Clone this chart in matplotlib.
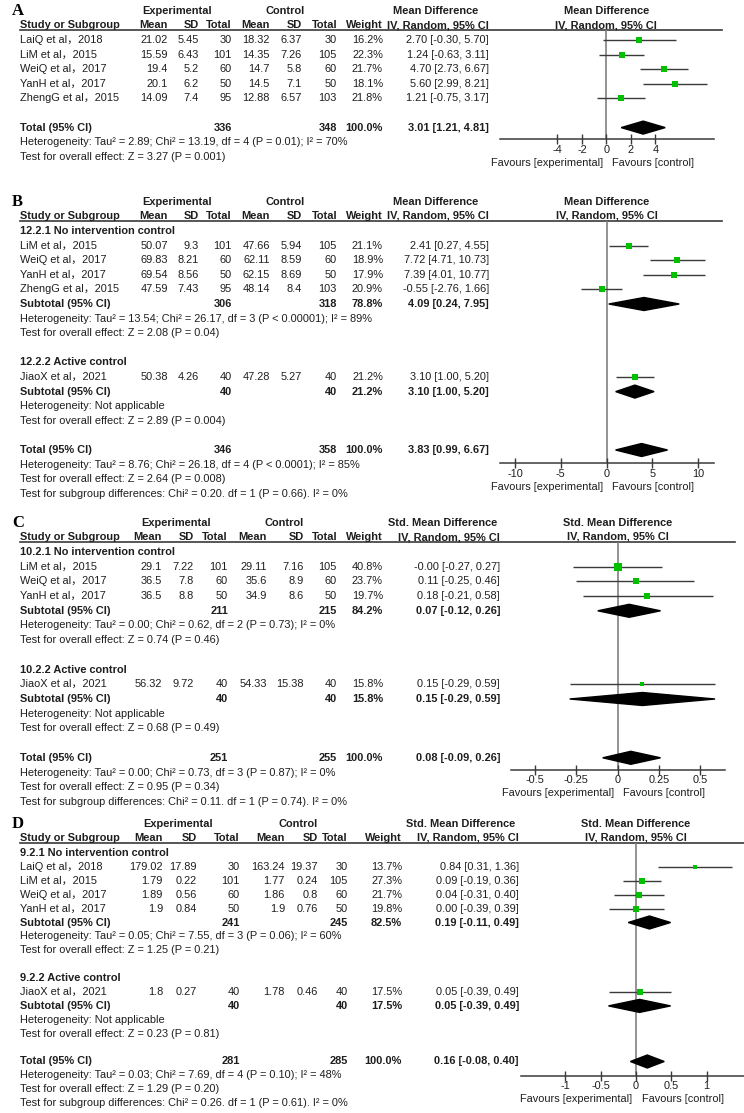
import matplotlib
matplotlib.use('Agg')
import matplotlib.pyplot as plt
from matplotlib.patches import Polygon

plt.rcParams['font.family'] = ['Liberation Sans', 'Noto Sans CJK SC']
plt.rcParams['font.size'] = 7.9

W, H = 744, 1113
TEXT = '#1e1e1e'
GREEN = '#00c000'
LINE = '#3a3a3a'

# ---------------- Panel A (Mean Difference) ----------------
a_studies = ['LaiQ et al，2018', 'LiM et al，2015', 'WeiQ et al，2017', 'YanH et al，2017', 'ZhengG et al，2015']
a_exp_mean = [21.02, 15.59, 19.4, 20.1, 14.09]
a_exp_sd = [5.45, 6.43, 5.2, 6.2, 7.4]
a_exp_n = [30, 101, 60, 50, 95]
a_ctl_mean = [18.32, 14.35, 14.7, 14.5, 12.88]
a_ctl_sd = [6.37, 7.26, 5.8, 7.1, 6.57]
a_ctl_n = [30, 105, 60, 50, 103]
a_weight = [16.2, 22.3, 21.7, 18.1, 21.8]
a_est = [2.70, 1.24, 4.70, 5.60, 1.21]
a_lo = [-0.30, -0.63, 2.73, 2.99, -0.75]
a_hi = [5.70, 3.11, 6.67, 8.21, 3.17]
a_total = [336, 348, 3.01, 1.21, 4.81]
a_total_text = ['Heterogeneity: Tau² = 2.89; Chi² = 13.19, df = 4 (P = 0.01); I² = 70%',
                'Test for overall effect: Z = 3.27 (P = 0.001)']
a_ticks = [-4, -2, 0, 2, 4]

# ---------------- Panel B (Mean Difference, subgroups) ----------------
b_groups = ['12.2.1 No intervention control', '12.2.2 Active control']
b_group_of = [0, 0, 0, 0, 1]
b_studies = ['LiM et al，2015', 'WeiQ et al，2017', 'YanH et al，2017', 'ZhengG et al，2015', 'JiaoX et al，2021']
b_exp_mean = [50.07, 69.83, 69.54, 47.59, 50.38]
b_exp_sd = [9.3, 8.21, 8.56, 7.43, 4.26]
b_exp_n = [101, 60, 50, 95, 40]
b_ctl_mean = [47.66, 62.11, 62.15, 48.14, 47.28]
b_ctl_sd = [5.94, 8.59, 8.69, 8.4, 5.27]
b_ctl_n = [105, 60, 50, 103, 40]
b_weight = [21.1, 18.9, 17.9, 20.9, 21.2]
b_est = [2.41, 7.72, 7.39, -0.55, 3.10]
b_lo = [0.27, 4.71, 4.01, -2.76, 1.00]
b_hi = [4.55, 10.73, 10.77, 1.66, 5.20]
b_sub_n = [(306, 318), (40, 40)]
b_sub_weight = [78.8, 21.2]
b_sub_est = [4.09, 3.10]
b_sub_lo = [0.24, 1.00]
b_sub_hi = [7.95, 5.20]
b_sub_text = [['Heterogeneity: Tau² = 13.54; Chi² = 26.17, df = 3 (P < 0.00001); I² = 89%',
               'Test for overall effect: Z = 2.08 (P = 0.04)'],
              ['Heterogeneity: Not applicable',
               'Test for overall effect: Z = 2.89 (P = 0.004)']]
b_total = [346, 358, 3.83, 0.99, 6.67]
b_total_text = ['Heterogeneity: Tau² = 8.76; Chi² = 26.18, df = 4 (P < 0.0001); I² = 85%',
                'Test for overall effect: Z = 2.64 (P = 0.008)',
                'Test for subgroup differences: Chi² = 0.20. df = 1 (P = 0.66). I² = 0%']
b_ticks = [-10, -5, 0, 5, 10]

# ---------------- Panel C (Std. Mean Difference) ----------------
c_groups = ['10.2.1 No intervention control', '10.2.2 Active control']
c_group_of = [0, 0, 0, 1]
c_studies = ['LiM et al，2015', 'WeiQ et al，2017', 'YanH et al，2017', 'JiaoX et al，2021']
c_exp_mean = [29.1, 36.5, 36.5, 56.32]
c_exp_sd = [7.22, 7.8, 8.8, 9.72]
c_exp_n = [101, 60, 50, 40]
c_ctl_mean = [29.11, 35.6, 34.9, 54.33]
c_ctl_sd = [7.16, 8.9, 8.6, 15.38]
c_ctl_n = [105, 60, 50, 40]
c_weight = [40.8, 23.7, 19.7, 15.8]
c_est = [-0.0, 0.11, 0.18, 0.15]
c_lo = [-0.27, -0.25, -0.21, -0.29]
c_hi = [0.27, 0.46, 0.58, 0.59]
c_sub_n = [(211, 215), (40, 40)]
c_sub_weight = [84.2, 15.8]
c_sub_est = [0.07, 0.15]
c_sub_lo = [-0.12, -0.29]
c_sub_hi = [0.26, 0.59]
c_sub_text = [['Heterogeneity: Tau² = 0.00; Chi² = 0.62, df = 2 (P = 0.73); I² = 0%',
               'Test for overall effect: Z = 0.74 (P = 0.46)'],
              ['Heterogeneity: Not applicable',
               'Test for overall effect: Z = 0.68 (P = 0.49)']]
c_total = [251, 255, 0.08, -0.09, 0.26]
c_total_text = ['Heterogeneity: Tau² = 0.00; Chi² = 0.73, df = 3 (P = 0.87); I² = 0%',
                'Test for overall effect: Z = 0.95 (P = 0.34)',
                'Test for subgroup differences: Chi² = 0.11. df = 1 (P = 0.74). I² = 0%']
c_ticks = [-0.5, -0.25, 0, 0.25, 0.5]

# ---------------- Panel D (Std. Mean Difference) ----------------
d_groups = ['9.2.1 No intervention control', '9.2.2 Active control']
d_group_of = [0, 0, 0, 0, 1]
d_studies = ['LaiQ et al，2018', 'LiM et al，2015', 'WeiQ et al，2017', 'YanH et al，2017', 'JiaoX et al，2021']
d_exp_mean = [179.02, 1.79, 1.89, 1.9, 1.8]
d_exp_sd = [17.89, 0.22, 0.56, 0.84, 0.27]
d_exp_n = [30, 101, 60, 50, 40]
d_ctl_mean = [163.24, 1.77, 1.86, 1.9, 1.78]
d_ctl_sd = [19.37, 0.24, 0.8, 0.76, 0.46]
d_ctl_n = [30, 105, 60, 50, 40]
d_weight = [13.7, 27.3, 21.7, 19.8, 17.5]
d_est = [0.84, 0.09, 0.04, 0.00, 0.05]
d_lo = [0.31, -0.19, -0.31, -0.39, -0.39]
d_hi = [1.36, 0.36, 0.40, 0.39, 0.49]
d_sub_n = [(241, 245), (40, 40)]
d_sub_weight = [82.5, 17.5]
d_sub_est = [0.19, 0.05]
d_sub_lo = [-0.11, -0.39]
d_sub_hi = [0.49, 0.49]
d_sub_text = [['Heterogeneity: Tau² = 0.05; Chi² = 7.55, df = 3 (P = 0.06); I² = 60%',
               'Test for overall effect: Z = 1.25 (P = 0.21)'],
              ['Heterogeneity: Not applicable',
               'Test for overall effect: Z = 0.23 (P = 0.81)']]
d_total = [281, 285, 0.16, -0.08, 0.40]
d_total_text = ['Heterogeneity: Tau² = 0.03; Chi² = 7.69, df = 4 (P = 0.10); I² = 48%',
                'Test for overall effect: Z = 1.29 (P = 0.20)',
                'Test for subgroup differences: Chi² = 0.26. df = 1 (P = 0.61). I² = 0%']
d_ticks = [-1, -0.5, 0, 0.5, 1]


def fmt_tick(v):
    return ('%g' % v)


def txt(cv, x, y, s, ha='left', bold=False):
    cv.text(x, y, s, ha=ha, va='center', color=TEXT,
            fontweight='bold' if bold else 'normal')


def draw_panel(fig, cv, p):
    col = p['cols']
    y0, step = p['y0'], p['step']
    y_line = y0 - 10
    y_hdr = y0 - 15
    y_grp = y0 - 29

    # header block
    cv.text(12, y_grp, p['letter'], ha='left', va='center', color='black',
            fontweight='bold', fontsize=12, family='Liberation Serif')
    txt(cv, col['exp'], y_grp, 'Experimental', ha='center', bold=True)
    txt(cv, col['ctl'], y_grp, 'Control', ha='center', bold=True)
    txt(cv, col['eff'], y_grp, p['measure'], ha='center', bold=True)
    txt(cv, 20, y_hdr, 'Study or Subgroup', bold=True)
    for key, lab in [('me', 'Mean'), ('se', 'SD'), ('ne', 'Total'),
                     ('mc', 'Mean'), ('sc', 'SD'), ('nc', 'Total'), ('w', 'Weight')]:
        txt(cv, col[key], y_hdr, lab, ha='right', bold=True)
    txt(cv, col['ci'], y_hdr, 'IV, Random, 95% CI', ha='right', bold=True)
    cv.plot([20, p['rule_end']], [y_line, y_line], color=LINE, lw=1.2)

    # build row list
    rows = []
    n_groups = len(p['groups']) if p['groups'] else 1
    for g in range(n_groups):
        if p['groups']:
            rows.append(('head', g))
        for i, gi in enumerate(p['group_of']):
            if gi == g:
                rows.append(('study', i))
        if p['groups']:
            rows.append(('sub', g))
            rows.append(('note', p['sub_text'][g][0]))
            rows.append(('note', p['sub_text'][g][1]))
        rows.append(('blank', None))
    rows.append(('total', None))
    for s in p['total_text']:
        rows.append(('note', s))

    ys = [y0 + k * step for k in range(len(rows))]
    y_total = ys[[r[0] for r in rows].index('total')]
    y_axis = y_total + p['axis_gap']

    x0, x1 = p['ax_px']
    ax = fig.add_axes([x0 / W, 1 - y_axis / H, (x1 - x0) / W, (y_axis - y_line) / H])
    ax.set_xlim(p['xlim'])
    ax.set_ylim(y_axis, y_line)
    ax.patch.set_alpha(0)
    for sp in ['left', 'right', 'top']:
        ax.spines[sp].set_visible(False)
    ax.spines['bottom'].set_color(LINE)
    ax.spines['bottom'].set_linewidth(1.1)
    ax.set_yticks([])
    ax.set_xticks(p['ticks'])
    ax.set_xticklabels([fmt_tick(t) for t in p['ticks']])
    ax.tick_params(axis='x', direction='inout', length=7, width=1, color=LINE,
                   pad=0.5, labelcolor=TEXT, labelsize=7.9)
    ax.axvline(0, color='#808080', lw=1.2, zorder=1)
    ax.annotate('Favours [experimental]', xy=(0, 0), xycoords=('data', 'axes fraction'),
                xytext=(-2.5, -17), textcoords='offset points', ha='right', va='center',
                color=TEXT, annotation_clip=False)
    ax.annotate('Favours [control]', xy=(0, 0), xycoords=('data', 'axes fraction'),
                xytext=(4, -17), textcoords='offset points', ha='left', va='center',
                color=TEXT, annotation_clip=False)
    ax.annotate(p['measure'], xy=(0, 1), xycoords=('data', 'axes fraction'),
                xytext=(0, 14), textcoords='offset points', ha='center', va='center',
                color=TEXT, fontweight='bold', annotation_clip=False)
    ax.annotate('IV, Random, 95% CI', xy=(0, 1), xycoords=('data', 'axes fraction'),
                xytext=(0, 3.6), textcoords='offset points', ha='center', va='center',
                color=TEXT, fontweight='bold', annotation_clip=False)

    def diamond(y, est, lo, hi):
        ax.add_patch(Polygon([(lo, y), (est, y - 6.5), (hi, y), (est, y + 6.5)],
                             closed=True, color='black', zorder=3))

    for (kind, val), y in zip(rows, ys):
        if kind == 'head':
            txt(cv, 20, y, p['groups'][val], bold=True)
        elif kind == 'study':
            i = val
            txt(cv, 20, y, p['studies'][i])
            txt(cv, col['me'], y, str(p['exp_mean'][i]), ha='right')
            txt(cv, col['se'], y, str(p['exp_sd'][i]), ha='right')
            txt(cv, col['ne'], y, str(p['exp_n'][i]), ha='right')
            txt(cv, col['mc'], y, str(p['ctl_mean'][i]), ha='right')
            txt(cv, col['sc'], y, str(p['ctl_sd'][i]), ha='right')
            txt(cv, col['nc'], y, str(p['ctl_n'][i]), ha='right')
            txt(cv, col['w'], y, '%.1f%%' % p['weight'][i], ha='right')
            txt(cv, col['ci'], y, '%.2f [%.2f, %.2f]' % (p['est'][i], p['lo'][i], p['hi'][i]),
                ha='right')
            ax.hlines(y, p['lo'][i], p['hi'][i], color=LINE, lw=1.0, zorder=2)
            # square side grows with the study weight
            side_px = 0.15 * p['weight'][i] + 2.6
            ax.plot([p['est'][i]], [y], marker='s', ms=side_px / 1.389, color=GREEN,
                    mew=0, ls='none', zorder=4, snap=False)
        elif kind == 'sub':
            g = val
            txt(cv, 20, y, 'Subtotal (95% CI)', bold=True)
            txt(cv, col['ne'], y, str(p['sub_n'][g][0]), ha='right', bold=True)
            txt(cv, col['nc'], y, str(p['sub_n'][g][1]), ha='right', bold=True)
            txt(cv, col['w'], y, '%.1f%%' % p['sub_weight'][g], ha='right', bold=True)
            txt(cv, col['ci'], y, '%.2f [%.2f, %.2f]' % (p['sub_est'][g], p['sub_lo'][g],
                                                       p['sub_hi'][g]), ha='right', bold=True)
            diamond(y, p['sub_est'][g], p['sub_lo'][g], p['sub_hi'][g])
        elif kind == 'total':
            ne, nc, est, lo, hi = p['total']
            txt(cv, 20, y, 'Total (95% CI)', bold=True)
            txt(cv, col['ne'], y, str(ne), ha='right', bold=True)
            txt(cv, col['nc'], y, str(nc), ha='right', bold=True)
            txt(cv, col['w'], y, '100.0%', ha='right', bold=True)
            txt(cv, col['ci'], y, '%.2f [%.2f, %.2f]' % (est, lo, hi), ha='right', bold=True)
            diamond(y, est, lo, hi)
        elif kind == 'note':
            txt(cv, 20, y, val)


fig = plt.figure(figsize=(W / 100, H / 100), dpi=100)
cv = fig.add_axes([0, 0, 1, 1])
cv.set_xlim(0, W)
cv.set_ylim(H, 0)
cv.axis('off')

cols_ab = dict(me=168, se=198.5, ne=232, mc=270, sc=302, nc=337, w=383, ci=489,
               exp=177, ctl=285, eff=436)
cols_c = dict(me=162, se=194, ne=228, mc=267, sc=304, nc=337, w=383, ci=500,
              exp=176.5, ctl=284, eff=443)
cols_d = dict(me=163, se=197, ne=240, mc=285, sc=318, nc=348, w=402, ci=519,
              exp=178, ctl=298, eff=461)

panels = [
    dict(letter='A', measure='Mean Difference', cols=cols_ab, y0=40, step=14.6, axis_gap=11.5,
         rule_end=722, ax_px=(500, 714), xlim=(-8.7, 8.8), ticks=a_ticks,
         groups=None, group_of=[0] * len(a_studies), studies=a_studies,
         exp_mean=a_exp_mean, exp_sd=a_exp_sd, exp_n=a_exp_n,
         ctl_mean=a_ctl_mean, ctl_sd=a_ctl_sd, ctl_n=a_ctl_n,
         weight=a_weight, est=a_est, lo=a_lo, hi=a_hi,
         total=a_total, total_text=a_total_text),
    dict(letter='B', measure='Mean Difference', cols=cols_ab, y0=231, step=14.6, axis_gap=13,
         rule_end=722, ax_px=(500, 714), xlim=(-11.65, 11.75), ticks=b_ticks,
         groups=b_groups, group_of=b_group_of, studies=b_studies,
         exp_mean=b_exp_mean, exp_sd=b_exp_sd, exp_n=b_exp_n,
         ctl_mean=b_ctl_mean, ctl_sd=b_ctl_sd, ctl_n=b_ctl_n,
         weight=b_weight, est=b_est, lo=b_lo, hi=b_hi,
         sub_n=b_sub_n, sub_weight=b_sub_weight, sub_est=b_sub_est,
         sub_lo=b_sub_lo, sub_hi=b_sub_hi, sub_text=b_sub_text,
         total=b_total, total_text=b_total_text),
    dict(letter='C', measure='Std. Mean Difference', cols=cols_c, y0=552, step=14.7, axis_gap=12,
         rule_end=735, ax_px=(511, 725), xlim=(-0.645, 0.65), ticks=c_ticks,
         groups=c_groups, group_of=c_group_of, studies=c_studies,
         exp_mean=c_exp_mean, exp_sd=c_exp_sd, exp_n=c_exp_n,
         ctl_mean=c_ctl_mean, ctl_sd=c_ctl_sd, ctl_n=c_ctl_n,
         weight=c_weight, est=c_est, lo=c_lo, hi=c_hi,
         sub_n=c_sub_n, sub_weight=c_sub_weight, sub_est=c_sub_est,
         sub_lo=c_sub_lo, sub_hi=c_sub_hi, sub_text=c_sub_text,
         total=c_total, total_text=c_total_text),
    dict(letter='D', measure='Std. Mean Difference', cols=cols_d, y0=853, step=13.9, axis_gap=14,
         rule_end=744, ax_px=(521, 744), xlim=(-1.63, 1.53), ticks=d_ticks,
         groups=d_groups, group_of=d_group_of, studies=d_studies,
         exp_mean=d_exp_mean, exp_sd=d_exp_sd, exp_n=d_exp_n,
         ctl_mean=d_ctl_mean, ctl_sd=d_ctl_sd, ctl_n=d_ctl_n,
         weight=d_weight, est=d_est, lo=d_lo, hi=d_hi,
         sub_n=d_sub_n, sub_weight=d_sub_weight, sub_est=d_sub_est,
         sub_lo=d_sub_lo, sub_hi=d_sub_hi, sub_text=d_sub_text,
         total=d_total, total_text=d_total_text),
]

for p in panels:
    draw_panel(fig, cv, p)

fig.savefig('out.png', dpi=100)
